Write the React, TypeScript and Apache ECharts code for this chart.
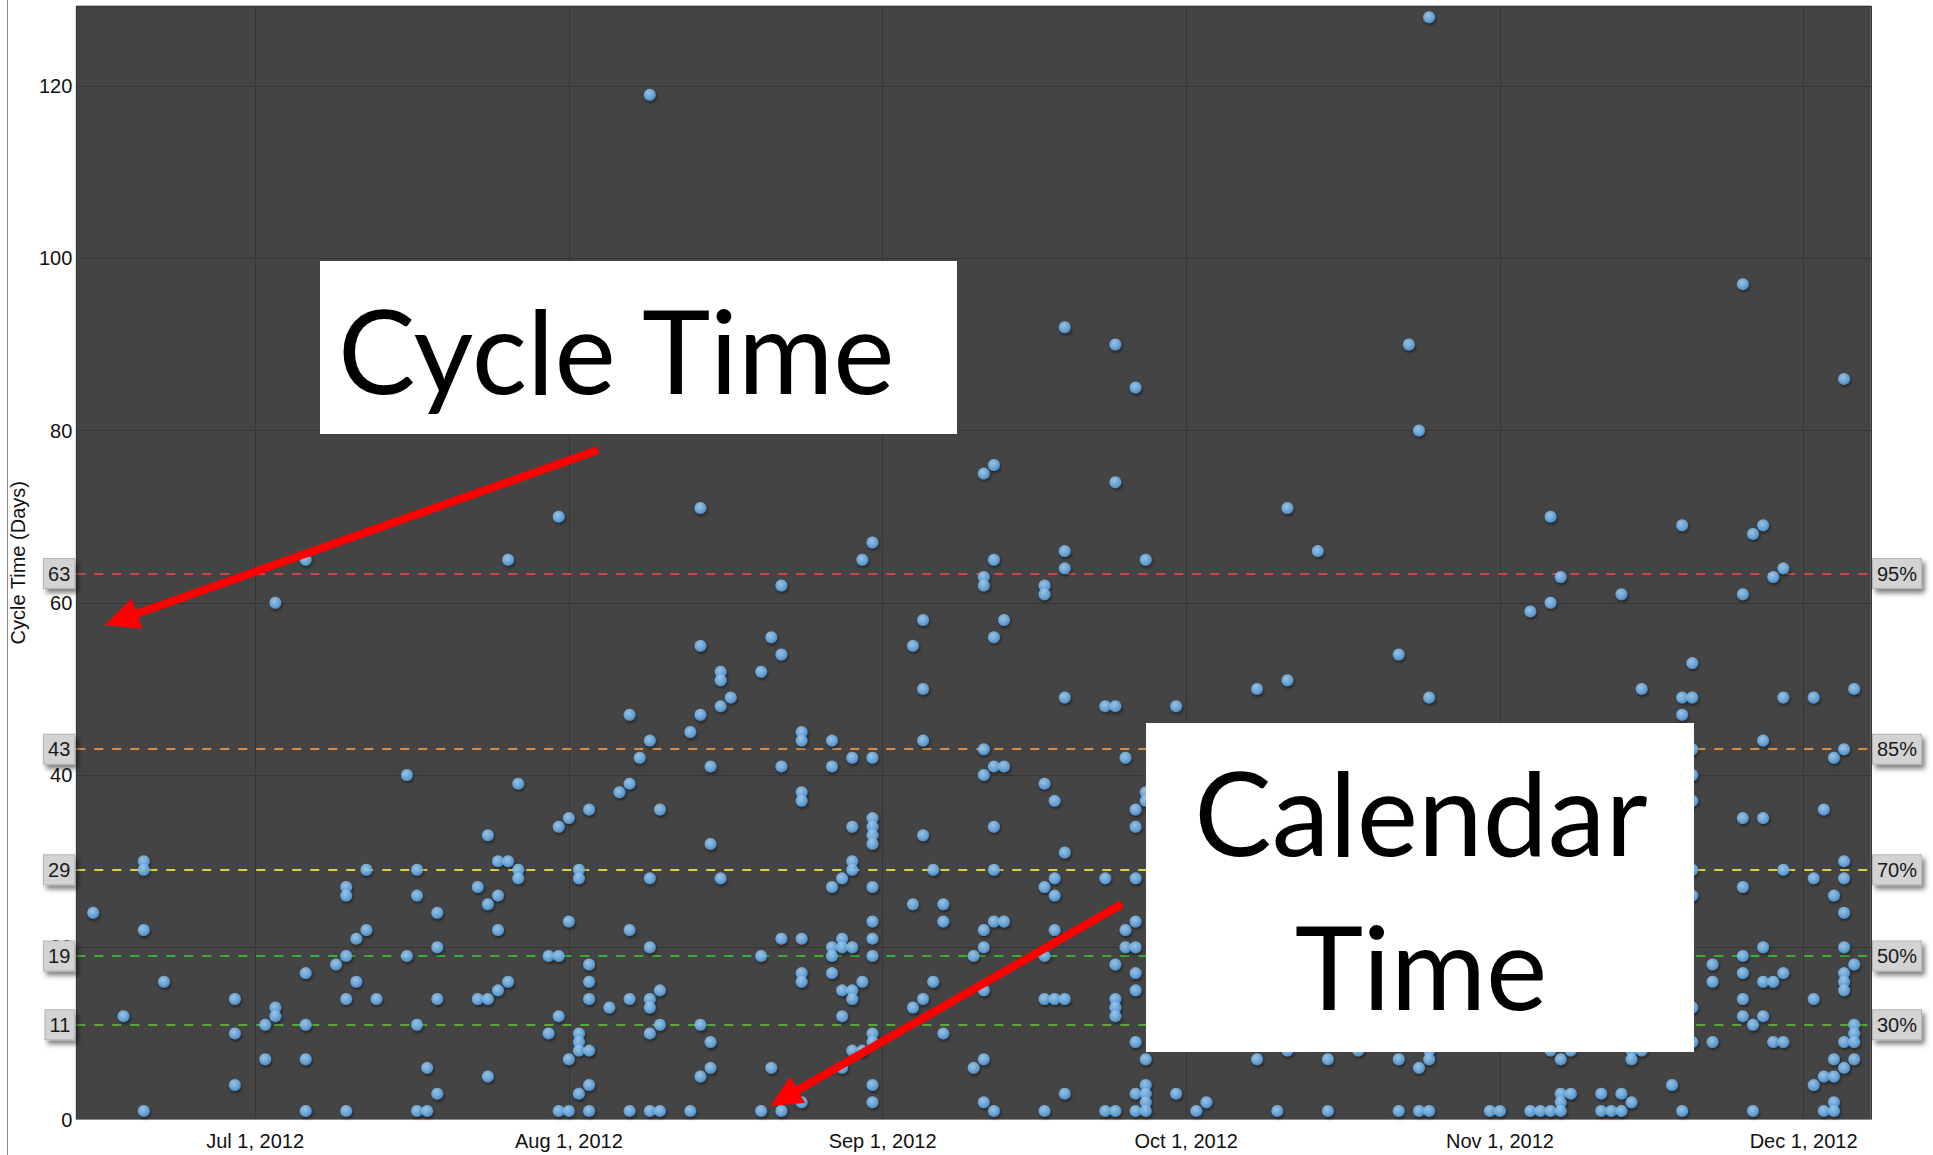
import React, { useEffect, useRef } from 'react';
import * as echarts from 'echarts';

// Cycle-time scatter: each point is [days after Jul 1 2012, cycle time in days]
const junePoints: number[][] = [
  [-16, 24], [-13, 12], [-11, 30], [-11, 29], [-11, 22], [-11, 1], [-9, 16], [-2, 14], [-2, 10], [-2, 4],
];
const julyPoints: number[][] = [
  [1, 11], [1, 7], [2, 13], [2, 12], [2, 60], [5, 65], [5, 17], [5, 11], [5, 7], [5, 1], [8, 18], [9, 27], [9, 26],
  [9, 19], [9, 14], [9, 1], [10, 21], [10, 16], [11, 29], [11, 22], [12, 14], [15, 40], [15, 19], [16, 29],
  [16, 26], [16, 11], [16, 1], [17, 6], [17, 1], [18, 24], [18, 20], [18, 14], [18, 3], [22, 27], [22, 14],
  [23, 33], [23, 25], [23, 14], [23, 5], [24, 30], [24, 26], [24, 22], [24, 15], [25, 65], [25, 30], [25, 16],
  [26, 39], [26, 29], [26, 28], [29, 19], [29, 10], [30, 70], [30, 34], [30, 19], [30, 12], [30, 1],
];
const augustPoints: number[][] = [
  [31, 35], [31, 23], [31, 7], [31, 1], [32, 29], [32, 28], [32, 10], [32, 9], [32, 8], [32, 3], [33, 36],
  [33, 18], [33, 16], [33, 14], [33, 8], [33, 4], [33, 1], [35, 13], [36, 38], [37, 47], [37, 39], [37, 22],
  [37, 14], [37, 1], [38, 42], [39, 119], [39, 44], [39, 28], [39, 20], [39, 14], [39, 13], [39, 10], [39, 1],
  [40, 36], [40, 15], [40, 11], [40, 1], [43, 45], [43, 1], [44, 71], [44, 55], [44, 47], [44, 11], [44, 5],
  [45, 41], [45, 32], [45, 9], [45, 6], [46, 52], [46, 51], [46, 48], [46, 28], [47, 49], [50, 52], [50, 19],
  [50, 1], [51, 56], [51, 6], [52, 62], [52, 54], [52, 41], [52, 21], [52, 1], [54, 45], [54, 44], [54, 38],
  [54, 37], [54, 21], [54, 17], [54, 16], [54, 2], [57, 44], [57, 41], [57, 27], [57, 20], [57, 19], [57, 17],
  [58, 28], [58, 21], [58, 20], [58, 15], [58, 12], [58, 6], [59, 42], [59, 34], [59, 30], [59, 29], [59, 20],
  [59, 15], [59, 14], [59, 8], [60, 65], [60, 16], [60, 8], [61, 67], [61, 42], [61, 35], [61, 34], [61, 33],
  [61, 32], [61, 27], [61, 23], [61, 21], [61, 19], [61, 10], [61, 9], [61, 4], [61, 2],
];
const septemberPoints: number[][] = [
  [65, 55], [65, 25], [65, 13], [66, 58], [66, 50], [66, 44], [66, 33], [66, 14], [67, 29], [67, 16], [68, 25],
  [68, 23], [68, 10], [71, 19], [71, 6], [72, 75], [72, 63], [72, 62], [72, 43], [72, 40], [72, 22], [72, 20],
  [72, 15], [72, 7], [72, 2], [73, 76], [73, 65], [73, 56], [73, 41], [73, 34], [73, 29], [73, 23], [73, 1],
  [74, 58], [74, 41], [74, 23], [78, 62], [78, 61], [78, 39], [78, 27], [78, 19], [78, 14], [78, 1], [79, 37],
  [79, 28], [79, 26], [79, 22], [79, 14], [80, 92], [80, 66], [80, 64], [80, 49], [80, 31], [80, 14], [80, 3],
  [84, 48], [84, 28], [84, 1], [85, 90], [85, 74], [85, 48], [85, 18], [85, 14], [85, 13], [85, 12], [85, 1],
  [86, 42], [86, 22], [86, 20], [87, 85], [87, 36], [87, 34], [87, 28], [87, 23], [87, 20], [87, 17], [87, 15],
  [87, 9], [87, 3], [87, 1], [88, 65], [88, 38], [88, 37], [88, 7], [88, 4], [88, 3], [88, 2], [88, 1],
  [91, 48], [91, 3],
];
const octoberPoints: number[][] = [
  [93, 1], [94, 2], [99, 50], [99, 7], [101, 1], [102, 71], [102, 51], [102, 8], [105, 66], [106, 7], [106, 1],
  [109, 8], [113, 54], [113, 7], [113, 1], [114, 90], [115, 80], [115, 6], [115, 1], [116, 128], [116, 49],
  [116, 8], [116, 7], [116, 1], [122, 1],
];
const novemberPoints: number[][] = [
  [123, 1], [126, 59], [126, 1], [127, 1], [128, 70], [128, 60], [128, 8], [128, 1], [129, 63], [129, 7],
  [129, 3], [129, 2], [129, 1], [130, 8], [130, 3], [133, 3], [133, 1], [134, 1], [135, 61], [135, 3], [135, 1],
  [136, 8], [136, 7], [136, 2], [137, 50], [137, 8], [140, 4], [141, 69], [141, 49], [141, 47], [141, 1],
  [142, 53], [142, 49], [142, 43], [142, 40], [142, 37], [142, 29], [142, 26], [142, 13], [142, 9], [144, 18],
  [144, 16], [144, 9], [147, 97], [147, 61], [147, 35], [147, 27], [147, 19], [147, 17], [147, 14], [147, 12],
  [148, 68], [148, 11], [148, 1], [149, 69], [149, 44], [149, 35], [149, 20], [149, 16], [149, 12], [150, 63],
  [150, 16], [150, 9], [151, 64], [151, 49], [151, 29], [151, 17], [151, 9],
];
const decemberPoints: number[][] = [
  [154, 49], [154, 28], [154, 14], [154, 4], [155, 36], [155, 5], [155, 1], [156, 42], [156, 26], [156, 7],
  [156, 5], [156, 2], [156, 1], [157, 86], [157, 43], [157, 30], [157, 28], [157, 24], [157, 20], [157, 17],
  [157, 16], [157, 15], [157, 9], [157, 6], [158, 50], [158, 18], [158, 11], [158, 10], [158, 9], [158, 7],
];

// Percentile lines
const percentileValues = [63.4, 43, 29, 19, 11];
const percentileNames = ['95%', '85%', '70%', '50%', '30%'];
const percentileColors = ['#c84848', '#d88c48', '#dcd248', '#3cae34', '#58aa34'];

const MONTHS = ['Jan', 'Feb', 'Mar', 'Apr', 'May', 'Jun', 'Jul', 'Aug', 'Sep', 'Oct', 'Nov', 'Dec'];
const Y_TICK_STEP = 20;
const Y_MAX = 129.3;
const X_START_DAY = -17.67;
const X_END_DAY = 159.66;

const DAY = 86400000;
const BASE = new Date(2012, 6, 1).getTime();
const dayToTime = (d: number) => BASE + d * DAY;

const FONT = '"Liberation Sans", Arial, sans-serif';

function arrow(from: number[], to: number[], headLen: number, halfW: number) {
  const dx = to[0] - from[0];
  const dy = to[1] - from[1];
  const len = Math.sqrt(dx * dx + dy * dy);
  const ux = dx / len, uy = dy / len;
  const nx = uy, ny = -ux;
  const bx = to[0] - ux * headLen, by = to[1] - uy * headLen;
  return [
    {
      type: 'line', z: 110,
      shape: { x1: from[0], y1: from[1], x2: bx + ux * 2, y2: by + uy * 2 },
      style: { stroke: '#ff0000', lineWidth: 8 },
    },
    {
      type: 'polygon', z: 111,
      shape: { points: [[to[0], to[1]], [bx + nx * halfW, by + ny * halfW], [bx - nx * halfW, by - ny * halfW]] },
      style: { fill: '#ff0000' },
    },
  ];
}

export default function App() {
  const ref = useRef<HTMLDivElement>(null);
  useEffect(() => {
    if (!ref.current) return;
    const chart = echarts.init(ref.current, null, { renderer: 'svg' });
    const allPoints = [
      ...junePoints, ...julyPoints, ...augustPoints, ...septemberPoints,
      ...octoberPoints, ...novemberPoints, ...decemberPoints,
    ].map((p) => [dayToTime(p[0]), p[1]]);

    const boxLabel = {
      show: true,
      color: '#1a1a1a',
      fontSize: 20,
      fontFamily: FONT,
      backgroundColor: '#d3d3d3',
      borderColor: '#b5b5b5',
      borderWidth: 1,
      padding: [5, 4, 4, 4],
      shadowColor: 'rgba(0,0,0,0.5)',
      shadowBlur: 5,
      shadowOffsetX: 3,
      shadowOffsetY: 4,
      distance: 2,
    };
    const mlData: any[] = [];
    percentileValues.forEach((v, i) => {
      mlData.push({
        yAxis: v,
        lineStyle: { color: percentileColors[i], type: [9, 9], width: 2 },
        label: { ...boxLabel, position: 'start', formatter: String(Math.round(v)) },
      });
      mlData.push({
        yAxis: v,
        lineStyle: { color: 'rgba(0,0,0,0)', width: 0 },
        label: { ...boxLabel, position: 'end', formatter: percentileNames[i] },
      });
    });

    const option: any = {
      animation: false,
      backgroundColor: '#ffffff',
      grid: {
        left: 75, top: 6, width: 1796, height: 1113.5,
        show: true, backgroundColor: '#444444', borderColor: '#7a7a7a', borderWidth: 1,
      },
      xAxis: {
        type: 'time',
        min: dayToTime(X_START_DAY),
        max: dayToTime(X_END_DAY),
        splitNumber: 6,
        minInterval: 28 * DAY,
        maxInterval: 31 * DAY,
        axisLine: { show: true, lineStyle: { color: '#8a8a8a', width: 1 } },
        axisTick: { show: false },
        axisLabel: {
          color: '#111', fontSize: 20, fontFamily: FONT, margin: 11,
          showMinLabel: false, showMaxLabel: false, hideOverlap: false,
          formatter: (val: number) => {
            const d = new Date(val);
            if (d.getDate() !== 1 || d.getHours() !== 0) return '';
            return `${MONTHS[d.getMonth()]} 1, ${d.getFullYear()}`;
          },
        },
        splitLine: { show: true, lineStyle: { color: '#363636', width: 1 } },
      },
      yAxis: {
        type: 'value',
        min: 0, max: Y_MAX, interval: Y_TICK_STEP,
        axisLine: { show: false },
        axisTick: { show: false },
        axisLabel: {
          color: '#111', fontSize: 20, fontFamily: FONT, margin: 4, showMaxLabel: false,
          formatter: (v: number) => (v % Y_TICK_STEP === 0 ? String(v) : ''),
        },
        splitLine: { show: true, lineStyle: { color: '#363636', width: 1 } },
        name: 'Cycle Time (Days)',
        nameLocation: 'middle',
        nameGap: 43,
        nameTextStyle: { color: '#111', fontSize: 20, fontFamily: FONT },
      },
      series: [
        {
          type: 'scatter',
          data: allPoints,
          symbolSize: 12,
          z: 3,
          itemStyle: {
            color: new echarts.graphic.RadialGradient(0.4, 0.35, 0.7, [
              { offset: 0, color: '#b0dcff' },
              { offset: 0.6, color: '#74baf6' },
              { offset: 1, color: '#5098dc' },
            ]),
            shadowBlur: 3,
            shadowColor: 'rgba(0,0,0,0.6)',
            shadowOffsetX: 1,
            shadowOffsetY: 2,
          },
          markLine: {
            silent: true,
            symbol: ['none', 'none'],
            z: 2,
            data: mlData,
          },
        },
      ],
      graphic: [
        { type: 'line', z: 100, shape: { x1: 7.5, y1: 0, x2: 7.5, y2: 1155 }, style: { stroke: '#8c8c8c', lineWidth: 1 } },
        { type: 'rect', z: 100, shape: { x: 320, y: 261, width: 637, height: 173 }, style: { fill: '#ffffff' } },
        {
          type: 'text', z: 101, x: 338, y: 349,
          style: { text: 'Cycle Time', fill: '#000', font: '116px Lato, "Open Sans", sans-serif', textAlign: 'left', textVerticalAlign: 'middle' },
        },
        { type: 'rect', z: 100, shape: { x: 1146, y: 723, width: 548, height: 329 }, style: { fill: '#ffffff' } },
        {
          type: 'text', z: 101, x: 1421, y: 811,
          style: { text: 'Calendar', fill: '#000', font: '116px Lato, "Open Sans", sans-serif', textAlign: 'center', textVerticalAlign: 'middle' },
        },
        {
          type: 'text', z: 101, x: 1421, y: 965,
          style: { text: 'Time', fill: '#000', font: '116px Lato, "Open Sans", sans-serif', textAlign: 'center', textVerticalAlign: 'middle' },
        },
        ...arrow([598, 450], [105, 625], 34, 16),
        ...arrow([1122, 904], [770, 1106], 32, 15),
      ],
    };
    chart.setOption(option);
    return () => chart.dispose();
  }, []);
  return (
    <div
      ref={ref}
      style={{ position: 'absolute', left: 0, top: 0, width: 1933, height: 1155, background: '#fff' }}
    />
  );
}
